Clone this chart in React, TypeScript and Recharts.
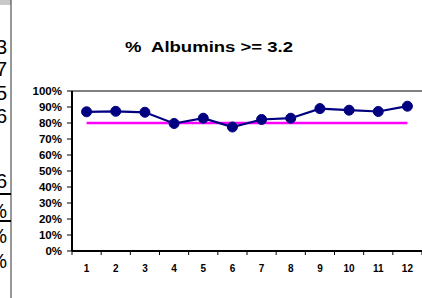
import React from 'react';
import { LineChart, Line, XAxis, YAxis, ReferenceLine } from 'recharts';

const months = ['1', '2', '3', '4', '5', '6', '7', '8', '9', '10', '11', '12'];
const albuminPct = [0.87, 0.873, 0.867, 0.797, 0.83, 0.775, 0.822, 0.83, 0.89, 0.88, 0.872, 0.905];
const targetPct = [0.8, 0.8, 0.8, 0.8, 0.8, 0.8, 0.8, 0.8, 0.8, 0.8, 0.8, 0.8];
const yTicks = [0, 0.1, 0.2, 0.3, 0.4, 0.5, 0.6, 0.7, 0.8, 0.9, 1];
const titleText = '%  Albumins >= 3.2';
const sideDigits = ['3', '7', '5', '6', '6', '%', '%', '%'];
const sideDigitY = [54, 76, 100, 123, 188, 218, 243, 268];

const data = months.map((m, i) => ({ month: m, pct: albuminPct[i], target: targetPct[i] }));

const W = 422;
const H = 298;
const PLOT_LEFT = 72;
const PLOT_RIGHT = 422;
const BAND = (PLOT_RIGHT - PLOT_LEFT) / months.length;
const FONT = 'Arial, "Liberation Sans", sans-serif';

const XTick = (props: any) => {
  const { x, y, payload, index } = props;
  const half = BAND / 2;
  return (
    <g>
      <line x1={x - half} y1={y} x2={x - half} y2={y + 4} stroke="#000" strokeWidth={1} />
      {index === months.length - 1 && (
        <line x1={x + half} y1={y} x2={x + half} y2={y + 4} stroke="#000" strokeWidth={1} />
      )}
      <text x={x} y={y + 21} textAnchor="middle" fontFamily={FONT} fontWeight="bold" fontSize={10} fill="#000">
        {payload.value}
      </text>
    </g>
  );
};

const YTick = (props: any) => {
  const { x, y, payload } = props;
  const label = `${Math.round(payload.value * 100)}%`;
  return (
    <text x={x} y={y + 4} textAnchor="end" fontFamily={FONT} fontWeight="bold" fontSize={11.5} fill="#000">
      {label}
    </text>
  );
};

export default function App() {
  return (
    <div style={{ position: 'absolute', left: 0, top: 0, width: W, height: H, background: '#fff' }}>
      <LineChart
        width={W}
        height={H}
        data={data}
        margin={{ top: 91, right: 0, left: 0, bottom: 17 }}
      >
        <YAxis
          type="number"
          domain={[0, 1]}
          ticks={yTicks}
          interval={0}
          width={72}
          tickSize={5}
          tickMargin={5}
          tick={<YTick />}
          axisLine={{ stroke: '#000', strokeWidth: 2 }}
          tickLine={{ stroke: '#000', strokeWidth: 1 }}
        />
        <XAxis
          dataKey="month"
          scale="band"
          height={30}
          interval={0}
          tickSize={0}
          tickMargin={0}
          tickLine={false}
          axisLine={{ stroke: '#000', strokeWidth: 2 }}
          tick={<XTick />}
        />
        <ReferenceLine y={1} stroke="#808080" strokeWidth={2} ifOverflow="extendDomain" />
        <Line
          dataKey="target"
          stroke="#FF00FF"
          strokeWidth={2.5}
          dot={false}
          activeDot={false}
          isAnimationActive={false}
        />
        <Line
          dataKey="pct"
          stroke="#000080"
          strokeWidth={2.2}
          dot={{ r: 5, fill: '#000080', stroke: '#000080', strokeWidth: 1 }}
          activeDot={false}
          isAnimationActive={false}
        />
      </LineChart>
      <svg
        width={W}
        height={H}
        style={{ position: 'absolute', left: 0, top: 0, pointerEvents: 'none' }}
      >
        <text
          x={125}
          y={52}
          textAnchor="start"
          fontFamily={FONT}
          fontWeight="bold"
          fontSize={14.5}
          fill="#000"
          textLength={168}
          lengthAdjust="spacingAndGlyphs"
          style={{ whiteSpace: 'pre' }}
        >
          {titleText}
        </text>
        <rect x={0} y={0} width={11} height={5} fill="#c8c8c8" />
        <line x1={11} y1={0} x2={11} y2={H} stroke="#333" strokeWidth={1} />
        <line x1={0} y1={194} x2={11} y2={194} stroke="#000" strokeWidth={2} />
        <line x1={0} y1={221} x2={11} y2={221} stroke="#000" strokeWidth={2} />
        {sideDigits.map((d, i) => (
          <text key={i} x={7} y={sideDigitY[i]} textAnchor="end" fontFamily={FONT} fontSize={20} fill="#000">
            {d}
          </text>
        ))}
      </svg>
    </div>
  );
}
